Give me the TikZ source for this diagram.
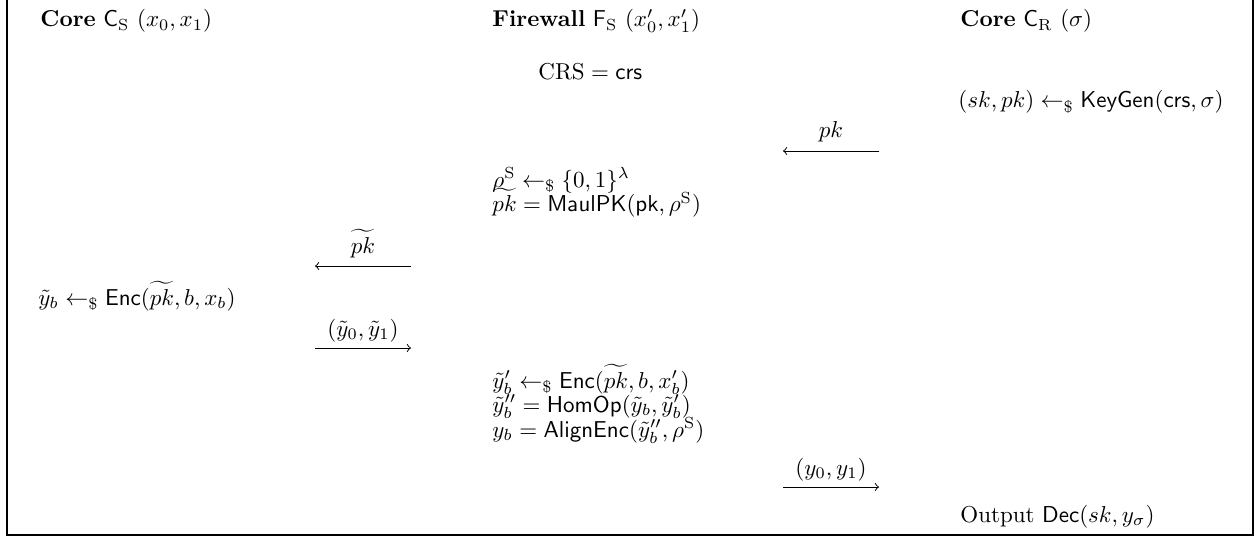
\documentclass[tikz,border=0pt]{standalone}
\usepackage{amsmath,amssymb}
\begin{document}
\begin{tikzpicture}[x=0.435pt,y=-0.435pt,
  txt/.style={anchor=base west,inner sep=0pt},
  lbl/.style={anchor=base,inner sep=0pt},
  msg/.style={-to,line width=0.4pt},
  frame/.style={line width=0.6pt}]
\useasboundingbox (0,0) rectangle (1257,537);
\draw[frame] (7,-20) -- (7,535) -- (1253,535) -- (1253,-20);
% headers
\node[txt] (hs) at (40,27) {\textbf{Core} $\mathsf{C}_\mathrm{S}$ $(x_0,x_1)$};
\node[txt] (hf) at (492,27) {\textbf{Firewall} $\mathsf{F}_\mathrm{S}$ $(x'_0,x'_1)$};
\node[txt] (hr) at (960,27) {\textbf{Core} $\mathsf{C}_\mathrm{R}$ $(\sigma)$};
% firewall CRS
\node[txt] (crs) at (538,80) {$\mathrm{CRS} = \mathsf{crs}$};
% receiver keygen
\node[txt] (kg) at (958,108) {$(sk,pk) \leftarrow_{\$} \mathsf{KeyGen}(\mathsf{crs},\sigma)$};
% pk arrow
\coordinate (pkR) at (879,151);
\coordinate (pkL) at (783,151);
\draw[msg] (pkR) -- (pkL);
\node[lbl] (pkl) at (831,138) {$pk$};
% firewall maul
\node[txt] (rho) at (492,187) {$\rho^\mathrm{S} \leftarrow_{\$} \{0,1\}^\lambda$};
\node[txt] (mpk) at (492,212) {$\widetilde{pk} = \mathsf{MaulPK}(\mathsf{pk},\rho^\mathrm{S})$};
% tilde pk arrow
\coordinate (tpR) at (411,266);
\coordinate (tpL) at (315,266);
\draw[msg] (tpR) -- (tpL);
\node[lbl] (tpl) at (363,253) {$\widetilde{pk}$};
% sender enc
\node[txt] (enc) at (38,305) {$\tilde{y}_b \leftarrow_{\$} \mathsf{Enc}(\widetilde{pk},b,x_b)$};
% (y0,y1) tilde arrow
\coordinate (tyL) at (315,348);
\coordinate (tyR) at (411,348);
\draw[msg] (tyL) -- (tyR);
\node[lbl] (tyl) at (363,336) {$(\tilde{y}_0,\tilde{y}_1)$};
% firewall rerandomise
\node[txt] (enc2) at (492,388) {$\tilde{y}'_b \leftarrow_{\$} \mathsf{Enc}(\widetilde{pk},b,x'_b)$};
\node[txt] (hom) at (492,412) {$\tilde{y}''_b = \mathsf{HomOp}(\tilde{y}_b,\tilde{y}'_b)$};
\node[txt] (aln) at (492,437) {$y_b = \mathsf{AlignEnc}(\tilde{y}''_b,\rho^\mathrm{S})$};
% (y0,y1) arrow
\coordinate (yL) at (783,487);
\coordinate (yR) at (879,487);
\draw[msg] (yL) -- (yR);
\node[lbl] (yl) at (831,475) {$(y_0,y_1)$};
% output
\node[txt] (out) at (960,522) {Output $\mathsf{Dec}(sk,y_\sigma)$};
\end{tikzpicture}
\end{document}
